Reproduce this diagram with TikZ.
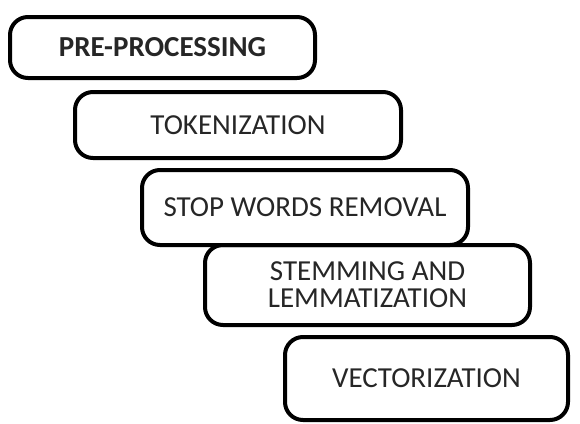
\documentclass[tikz,border=0pt]{standalone}
\usepackage{fontspec}
\setmainfont{Carlito}
\usepackage{tikz}

\tikzset{
	stage/.style={draw, line width=4pt, rounded corners=18pt, inner sep=0pt, font=\fontsize{29}{27}\selectfont, text=black!85, align=center}
}

\begin{document}
\begin{tikzpicture}[x=1pt,y=-1pt]
	\useasboundingbox (0,0) rectangle (580,423);
	\node (pre) at (162.5,47.5) [stage, minimum width=305pt, minimum height=61pt] {\textbf{PRE-PROCESSING}};
	\node (tok) at (238,125) [stage, minimum width=326pt, minimum height=66pt] {TOKENIZATION};
	\node (stop) at (305,207.5) [stage, minimum width=326pt, minimum height=75pt] {STOP WORDS REMOVAL};
	\node (stem) at (367.5,285) [stage, minimum width=325pt, minimum height=80pt] {STEMMING AND\\LEMMATIZATION};
	\node (vec) at (426.5,378.5) [stage, minimum width=283pt, minimum height=83pt] {VECTORIZATION};
\end{tikzpicture}
\end{document}
